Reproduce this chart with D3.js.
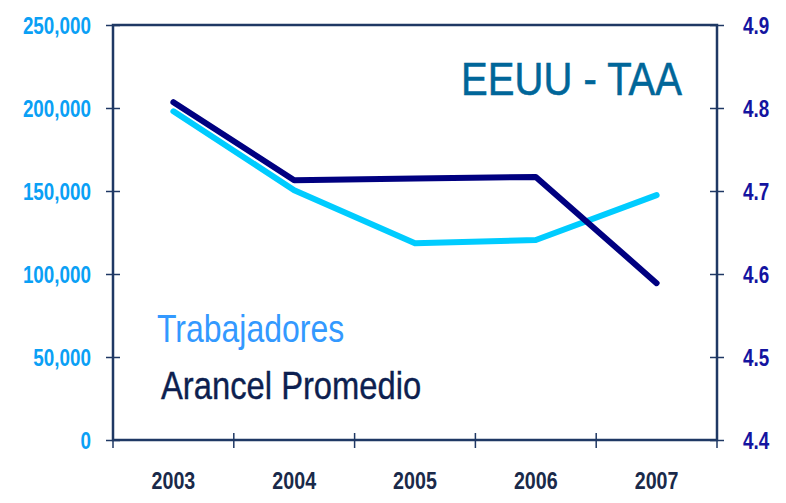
<!DOCTYPE html>
<html>
<head>
<meta charset="utf-8">
<script src="https://cdn.jsdelivr.net/npm/d3@7"></script>
<style>
  body { margin: 0; background: #fff; }
  svg { display: block; }
</style>
</head>
<body>
<div id="app"></div>
<script>
// datos
const years = ['2003', '2004', '2005', '2006', '2007'];
const trabajadores = [198000, 150500, 118500, 120500, 147500];
const arancel = [4.807, 4.713, 4.715, 4.717, 4.589];
const leftTicks = [0, 50000, 100000, 150000, 200000, 250000];
const rightTicks = [4.4, 4.5, 4.6, 4.7, 4.8, 4.9];

const W = 786, H = 503;
const plotL = 113, plotR = 717, plotT = 25, plotB = 440;
// sin Arial Narrow: Liberation Sans comprimida en horizontal
const font = '"Liberation Sans", Arial, sans-serif';
const narrow = 0.82;

const svg = d3.select('#app').append('svg').attr('width', W).attr('height', H);

const x = d3.scaleBand().domain(years).range([plotL, plotR]);
const yL = d3.scaleLinear().domain([0, 250000]).range([plotB, plotT]);
const yR = d3.scaleLinear().domain([4.4, 4.9]).range([plotB, plotT]);

const axisColor = '#1f3864';

// texto estrecho
function narrowText(g, tx, ty, str, k = narrow) {
  return g.append('text')
    .attr('transform', `translate(${tx},${ty}) scale(${k},1)`)
    .attr('font-family', font)
    .text(str);
}

// marco
svg.append('rect')
  .attr('x', plotL).attr('y', plotT)
  .attr('width', plotR - plotL).attr('height', plotB - plotT)
  .attr('fill', 'none').attr('stroke', axisColor).attr('stroke-width', 2.5);

// eje izquierdo
const gL = svg.append('g').attr('transform', `translate(${plotL},0)`)
  .call(d3.axisLeft(yL).tickValues(leftTicks).tickSize(7).tickPadding(22)
    .tickFormat(d3.format(',')));
gL.select('.domain').remove();
gL.selectAll('.tick line').attr('x2', 7).attr('x1', -7).attr('stroke', axisColor).attr('stroke-width', 1.5);
gL.selectAll('.tick text')
  .attr('x', -22 / narrow).attr('transform', `scale(${narrow},1)`)
  .attr('fill', '#0aa0f5').attr('font-family', font).attr('font-weight', 'bold')
  .attr('font-size', '23px').attr('dy', '0.36em');

// eje derecho
const gR = svg.append('g').attr('transform', `translate(${plotR},0)`)
  .call(d3.axisRight(yR).tickValues(rightTicks).tickSize(7).tickPadding(26)
    .tickFormat(d3.format('.1f')));
gR.select('.domain').remove();
gR.selectAll('.tick line').attr('x1', -7).attr('x2', 7).attr('stroke', axisColor).attr('stroke-width', 1.5);
gR.selectAll('.tick text')
  .attr('x', 26 / narrow).attr('transform', `scale(${narrow},1)`)
  .attr('fill', '#1414a0').attr('font-family', font).attr('font-weight', 'bold')
  .attr('font-size', '23px').attr('dy', '0.36em');

// eje x: marcas en los limites de cada categoria
const bounds = years.map(d => x(d)).concat([plotR]);
svg.append('g').selectAll('line').data(bounds).enter().append('line')
  .attr('x1', d => d).attr('x2', d => d)
  .attr('y1', plotB - 7).attr('y2', plotB + 8)
  .attr('stroke', axisColor).attr('stroke-width', 1.5);
const gX = svg.append('g');
years.forEach(d => {
  narrowText(gX, x(d) + x.bandwidth() / 2, 489, d)
    .attr('text-anchor', 'middle')
    .attr('fill', '#1a2a4a').attr('font-weight', 'bold')
    .attr('font-size', '24px');
});

// lineas
const cx = d => x(d) + x.bandwidth() / 2;
const lineT = d3.line().x((d, i) => cx(years[i])).y(d => yL(d));
const lineA = d3.line().x((d, i) => cx(years[i])).y(d => yR(d));

svg.append('path').datum(trabajadores)
  .attr('d', lineT).attr('fill', 'none')
  .attr('stroke', '#00ccff').attr('stroke-width', 6)
  .attr('stroke-linecap', 'round').attr('stroke-linejoin', 'round');
svg.append('path').datum(arancel)
  .attr('d', lineA).attr('fill', 'none')
  .attr('stroke', '#000080').attr('stroke-width', 6)
  .attr('stroke-linecap', 'round').attr('stroke-linejoin', 'round');

// titulo
narrowText(svg, 682, 95, 'EEUU - TAA', 0.87)
  .attr('text-anchor', 'end')
  .attr('fill', '#006699').attr('font-size', '46px')
  .attr('stroke', '#006699').attr('stroke-width', 0.6);

// leyenda
narrowText(svg, 157, 342, 'Trabajadores')
  .attr('fill', '#3399ff').attr('font-size', '39px');
narrowText(svg, 161, 399, 'Arancel Promedio', 0.84)
  .attr('fill', '#0d1f50').attr('font-size', '39px')
  .attr('stroke', '#0d1f50').attr('stroke-width', 0.4);
</script>
</body>
</html>
